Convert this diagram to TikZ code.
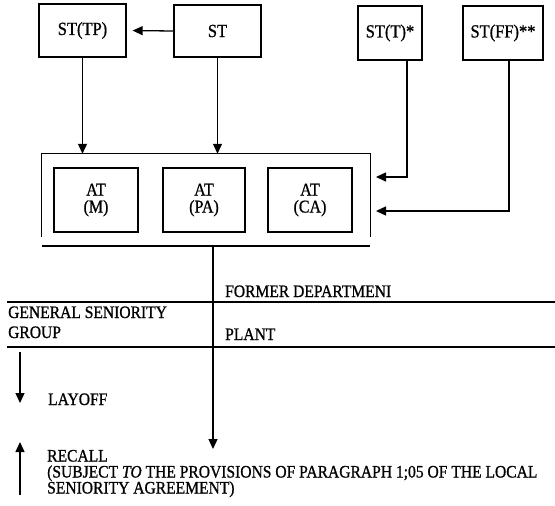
\documentclass[tikz,border=0pt]{standalone}
\usepackage{fontspec}
\setmainfont{Liberation Serif}
\newfontfamily\scanfont{Liberation Serif}[FakeBold=0.9,FakeStretch=0.89]
\usetikzlibrary{arrows.meta}
\begin{document}
\begin{tikzpicture}[x=1pt,y=-1pt,
  stbox/.style={draw, line width=1.3pt, inner sep=0pt, font=\scanfont\fontsize{18.5}{20}\selectfont},
  atbox/.style={draw, line width=1.3pt, inner sep=0pt, minimum height=64pt, align=center, font=\scanfont\fontsize{18}{17}\selectfont},
  conn/.style={line width=1.3pt},
  arr/.style={conn, -{Triangle[length=10pt,width=9pt]}},
  lbl/.style={anchor=base west, inner sep=0pt, text height=11.5pt, text depth=3pt, font=\scanfont\fontsize{17.5}{16}\selectfont},
  rulel/.style={line width=1.6pt}]
\useasboundingbox (0,0) rectangle (555,506);
% top boxes
\node[stbox, minimum width=87pt, minimum height=53pt] (stp) at (82.5,30.5) {ST(TP)};
\node[stbox, minimum width=87pt, minimum height=52pt] (st) at (217.5,31) {ST};
\node[stbox, minimum width=64pt, minimum height=54pt] (stt) at (390,33) {ST(T)*};
\node[stbox, minimum width=80pt, minimum height=54pt] (stff) at (503,33) {ST(FF)**};
% group box
\node[minimum width=328pt, minimum height=83pt, inner sep=0pt] (grp) at (206,195.5) {};
\draw[conn] (grp.south west) -- (grp.north west) -- (grp.north east) -- (grp.south east);
\coordinate (gb1) at (42,246);
\coordinate (gb2) at (370,246);
\draw[rulel] (gb1) -- (gb2);
\node[atbox, minimum width=84pt] (atm) at (96,200) {AT\\(M)};
\node[atbox, minimum width=82pt] (atpa) at (204,200) {AT\\(PA)};
\node[atbox, minimum width=84pt] (atca) at (310,200) {AT\\(CA)};
% connectors
\draw[arr, shorten >=6pt] (st.west) -- (stp.east);
\draw[arr] (stp.south) -- (stp.south |- grp.north);
\draw[arr] (st.south) -- (st.south |- grp.north);
\coordinate (in1) at (376,177);
\coordinate (in2) at (376,211);
\draw[arr] ([xshift=17pt]stt.south) |- (in1);
\draw[arr] ([xshift=6pt]stff.south) |- (in2);
\coordinate (m0) at (213,246);
\coordinate (m1) at (213,449);
\draw[arr] (m0) -- (m1);
% rules
\coordinate (la) at (7,302);
\coordinate (lb) at (555,302);
\coordinate (lc) at (7,347);
\coordinate (ld) at (555,347);
\draw[rulel] (la) -- (lb);
\draw[rulel] (lc) -- (ld);
% labels
\node[lbl] (fd) at (225,297) {FORMER DEPARTMENI};
\node[lbl] (gs1) at (8,318) {GENERAL SENIORITY};
\node[lbl] (gs2) at (8,338) {GROUP};
\node[lbl] (pl) at (225,340) {PLANT};
\node[lbl] (lay) at (48,405) {LAYOFF};
\node[lbl] (rc1) at (47,461.5) {RECALL};
\node[lbl] (rc2) at (47,477.5) {(SUBJECT \textit{TO} THE PROVISIONS OF PARAGRAPH 1;05 OF THE LOCAL};
\node[lbl] (rc3) at (47,493.5) {SENIORITY AGREEMENT)};
% layoff / recall arrows
\coordinate (d0) at (20,352);
\coordinate (d1) at (20,403);
\coordinate (u0) at (20,495);
\coordinate (u1) at (20,442);
\draw[arr] (d0) -- (d1);
\draw[arr] (u0) -- (u1);
\end{tikzpicture}
\end{document}
